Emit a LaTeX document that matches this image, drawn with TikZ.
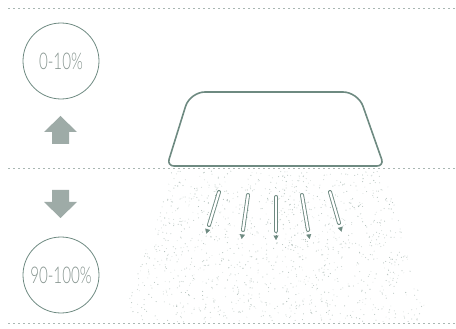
\documentclass[tikz,border=0pt]{standalone}
\usepackage{fontspec}
\usepackage{tikz}
\usetikzlibrary{arrows.meta,calc}
\usepackage{xcolor}
\newfontfamily\pctfont[FakeStretch=0.66]{Lato Light}
\definecolor{edge}{HTML}{6E8A81}
\definecolor{fade}{HTML}{9EABA7}
\definecolor{rule}{HTML}{A9B7B3}
\definecolor{label}{HTML}{86948F}
\definecolor{mist}{HTML}{8FA39C}

\begin{document}
\begin{tikzpicture}[x=1pt,y=-1pt,
      sep/.style={rule,line width=0.9pt,dash pattern=on 2.4pt off 2.6pt},
      badge/.style={circle,draw=edge,line width=0.8pt,minimum size=76pt,inner sep=0pt,
                    text=label,font=\pctfont\fontsize{23}{26}\selectfont},
      tray/.style={edge,line width=1.6pt},
      rod/.style={edge,line width=0.9pt,double=white,double distance=2.2pt,line cap=round},
      drip/.style={-{Triangle[length=4.5pt,width=5pt]},edge,line width=0.1pt},
      block/.style={fill=fade,draw=none}]
    \useasboundingbox (0,0) rectangle (456,329);
    % separators
    \coordinate (topL) at (8,8);   \coordinate (topR) at (455,8);
    \coordinate (midL) at (8,168); \coordinate (midR) at (455,168);
    \coordinate (botL) at (8,323); \coordinate (botR) at (455,323);
    \draw[sep] (topL) -- (topR);
    \draw[sep] (midL) -- (midR);
    \draw[sep] (botL) -- (botR);
    % spray below the plate
    \pgfmathsetseed{4217}
    \foreach \i in {1,...,1300}{
      \pgfmathsetmacro{\v}{rnd}
      \pgfmathsetmacro{\u}{rnd}
      \pgfmathsetmacro{\yy}{171+151*\v}
      \pgfmathsetmacro{\xl}{172-50*\v}
      \pgfmathsetmacro{\xr}{384+46*\v}
      \pgfmathsetmacro{\xx}{\xl+\u*(\xr-\xl)}
      \pgfmathsetmacro{\op}{0.2+0.55*rnd}
      \fill[mist,opacity=\op] (\xx,\yy) circle (0.55pt);
    }
    % plate
    \draw[tray] (275,166) [rounded corners=7pt] -- (167,166) [rounded corners=15pt] -- (190,92)
      -- (358,92) [rounded corners=7pt] -- (384,166) -- cycle;
    % rods with drips
    \foreach \tx/\ty/\bx/\by [count=\k] in {219/192/209/225, 248/195/243/230, 276/197/276/231,
                                             302/195/308/230, 330/192/339/223}{
      \coordinate (r\k t) at (\tx,\ty);
      \coordinate (r\k b) at (\bx,\by);
      \draw[rod] (r\k t) -- (r\k b);
      \draw[drip] ($(r\k b)!-4pt!(r\k t)$) -- ($(r\k b)!-9pt!(r\k t)$);
    }
    % levels
    \node[badge] (low) at (61,61) {0-10\%};
    \node[badge] (high) at (61,275) {90-100\%};
    \fill[block] (52,144) -- (52,132) -- (44,132) -- (60.5,116) -- (77,132) -- (69,132) -- (69,144) -- cycle;
    \fill[block] (52,190) -- (52,202) -- (44,202) -- (60.5,218) -- (77,202) -- (69,202) -- (69,190) -- cycle;
  \end{tikzpicture}
\end{document}
